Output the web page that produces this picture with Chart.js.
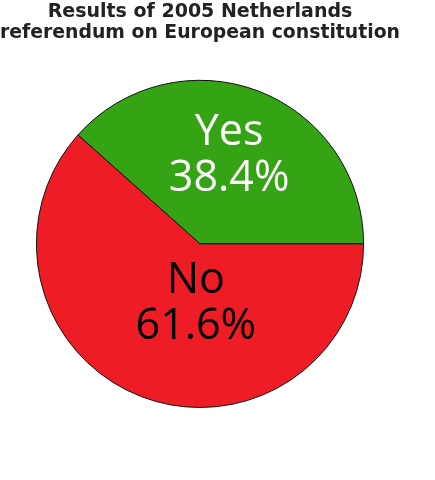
<!DOCTYPE html>
<html>
<head>
<meta charset="utf-8">
<script src="https://cdn.jsdelivr.net/npm/chart.js@4/dist/chart.umd.min.js"></script>
<style>
  html, body { margin: 0; padding: 0; background: #fff; }
  #wrap { width: 435px; height: 480px; }
</style>
</head>
<body>
<div id="wrap"><canvas id="myChart" width="435" height="480"></canvas></div>
<script>
const labels = ['Yes', 'No'];
const shares = [38.4, 61.6];
const sliceColors = ['#34a414', '#ee1c25'];
const textColors = ['#ffffff', '#000000'];
const titleLines = ['Results of 2005 Netherlands', 'referendum on European constitution'];

// nudge each label block from the slice centroid
const labelShift = [[0, -12], [25, -17]];

const sliceLabels = {
    id: 'sliceLabels',
    afterDatasetsDraw(chart) {
        const ctx = chart.ctx;
        const arcs = chart.getDatasetMeta(0).data;
        ctx.save();
        ctx.font = '43px "Open Sans"';
        ctx.textAlign = 'center';
        ctx.textBaseline = 'middle';
        arcs.forEach((arc, i) => {
            const p = arc.tooltipPosition();
            const x = p.x + labelShift[i][0];
            const y = p.y + labelShift[i][1];
            ctx.fillStyle = textColors[i];
            ctx.fillText(labels[i], x, y - 23);
            ctx.fillText(shares[i].toFixed(1) + '%', x, y + 23);
        });
        ctx.restore();
    }
};

const ctx = document.getElementById('myChart').getContext('2d');
new Chart(ctx, {
    type: 'pie',
    data: {
        labels: labels,
        datasets: [{
            data: shares,
            backgroundColor: sliceColors,
            borderColor: '#111111',
            borderWidth: 1
        }]
    },
    options: {
        responsive: false,
        animation: false,
        rotation: 90 - shares[0] * 3.6,
        layout: { padding: { top: 0, left: 0, right: 35, bottom: 72 } },
        plugins: {
            legend: { display: false },
            tooltip: { enabled: false },
            title: {
                display: true,
                text: titleLines,
                color: '#222222',
                font: { family: '"DejaVu Sans"', size: 19, weight: 'bold', lineHeight: 1.1 },
                padding: { top: 2, bottom: 36 }
            }
        }
    },
    plugins: [sliceLabels]
});
</script>
</body>
</html>
